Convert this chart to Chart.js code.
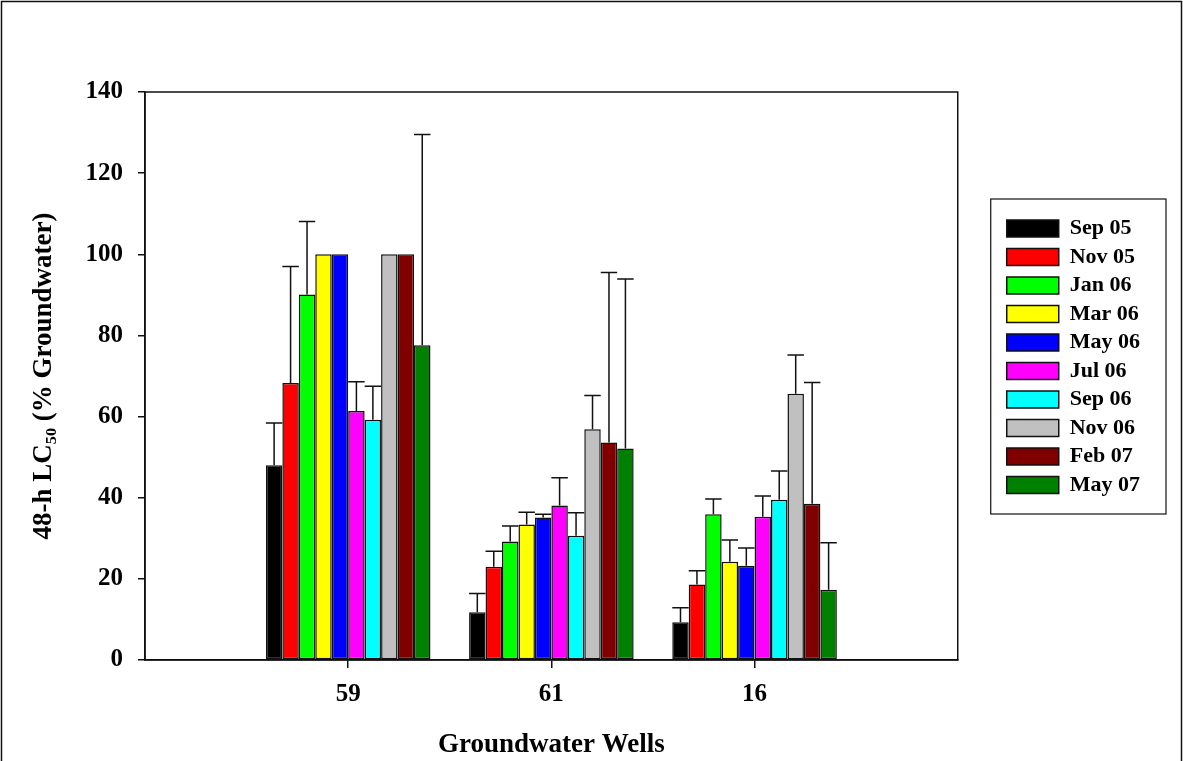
<!DOCTYPE html>
<html>
<head>
<meta charset="utf-8">
<script src="https://cdn.jsdelivr.net/npm/chart.js@4.4.0/dist/chart.umd.min.js"></script>
<style>
  body { margin: 0; background: #fff; }
  #wrap { width: 1183px; height: 761px; }
</style>
</head>
<body>
<div id="wrap"><canvas id="lc50" width="1183" height="761"></canvas></div>
<script>
// 48-h LC50 (% groundwater) per well, one array per sampling date
// order of values in every array: well 59, well 61, well 16
const wells = ["59", "61", "16"];
const months = ["Sep 05", "Nov 05", "Jan 06", "Mar 06", "May 06", "Jul 06", "Sep 06", "Nov 06", "Feb 07", "May 07"];

const sep05 = [48.0, 11.8, 9.3];
const nov05 = [68.3, 23.0, 18.6];
const jan06 = [90.1, 29.2, 35.9];
const mar06 = [100, 33.4, 24.2];
const may06 = [100, 35.1, 23.2];
const jul06 = [61.4, 38.1, 35.3];
const sep06 = [59.2, 30.6, 39.5];
const nov06 = [100, 56.9, 65.6];
const feb07 = [100, 53.6, 38.5];
const may07 = [77.6, 52.1, 17.3];

// upper error bar (+SD), 0 = no bar drawn
const sep05Err = [10.4, 4.6, 3.6];
const nov05Err = [28.7, 3.8, 3.4];
const jan06Err = [18.0, 3.8, 3.8];
const mar06Err = [0, 3.0, 5.4];
const may06Err = [0, 0.8, 4.4];
const jul06Err = [7.2, 6.8, 5.1];
const sep06Err = [8.3, 5.7, 7.1];
const nov06Err = [0, 8.3, 9.6];
const feb07Err = [0, 41.9, 29.9];
const may07Err = [51.9, 41.8, 11.6];

const yTicks = [0, 20, 40, 60, 80, 100, 120, 140];

const values = [sep05, nov05, jan06, mar06, may06, jul06, sep06, nov06, feb07, may07];
const errors = [sep05Err, nov05Err, jan06Err, mar06Err, may06Err, jul06Err, sep06Err, nov06Err, feb07Err, may07Err];
const colors = ["#000000", "#ff0000", "#00ff00", "#ffff00", "#0000ff", "#ff00ff", "#00ffff", "#c0c0c0", "#800000", "#008000"];

// empty slot on each side of the three wells
const xLabels = ["", ...wells, ""];
const pad = (arr) => [null, ...arr, null];

const datasets = months.map((m, i) => ({
  label: m,
  data: pad(values[i]),
  errorBars: pad(errors[i]),
  backgroundColor: colors[i],
  borderColor: "#111",
  borderWidth: 1.5,
  borderSkipped: false,
  categoryPercentage: 0.81,
  barPercentage: 1.0,
}));

const serif = "'Liberation Serif', 'Times New Roman', serif";

const decorations = {
  id: "decorations",
  beforeDraw(chart) {
    const ctx = chart.ctx;
    ctx.save();
    ctx.fillStyle = "#fff";
    ctx.fillRect(0, 0, chart.width, chart.height);
    ctx.restore();
  },
  afterDatasetsDraw(chart) {
    const ctx = chart.ctx;
    const y = chart.scales.y;
    ctx.save();
    ctx.strokeStyle = "#111";
    ctx.lineWidth = 1.5;
    chart.data.datasets.forEach((ds, i) => {
      const meta = chart.getDatasetMeta(i);
      meta.data.forEach((bar, j) => {
        const err = ds.errorBars[j];
        if (!err) return;
        const top = y.getPixelForValue(ds.data[j] + err);
        const half = bar.width / 2;
        ctx.beginPath();
        ctx.moveTo(bar.x, bar.y);
        ctx.lineTo(bar.x, top);
        ctx.moveTo(bar.x - half, top);
        ctx.lineTo(bar.x + half, top);
        ctx.stroke();
      });
    });
    ctx.restore();
  },
  afterDraw(chart) {
    const ctx = chart.ctx;
    const a = chart.chartArea;
    ctx.save();
    ctx.strokeStyle = "#111";
    ctx.lineWidth = 1.5;
    // plot box
    ctx.strokeRect(a.left, a.top, a.right - a.left, a.bottom - a.top);
    // outer frame
    ctx.strokeRect(1.5, 1.5, chart.width - 3, chart.height + 10);
    // legend frame
    const boxes = chart.legend.legendHitBoxes;
    if (boxes && boxes.length) {
      const l = Math.min(...boxes.map(b => b.left));
      const t = Math.min(...boxes.map(b => b.top));
      const r = Math.max(...boxes.map(b => b.left + b.width));
      const btm = Math.max(...boxes.map(b => b.top + b.height));
      ctx.lineWidth = 1.2;
      ctx.strokeRect(l - 16, t - 18.5, r - l + 42, btm - t + 36.5);
    }
    ctx.restore();
  },
};

new Chart(document.getElementById("lc50"), {
  type: "bar",
  data: { labels: xLabels, datasets: datasets },
  plugins: [decorations],
  options: {
    responsive: false,
    animation: false,
    layout: { padding: { top: 92, right: 33, bottom: 0, left: 0 } },
    plugins: {
      tooltip: { enabled: false },
      legend: {
        position: "right",
        align: "start",
        title: { display: true, text: "", font: { size: 10 }, padding: { top: 107, bottom: 0 } },
        labels: {
          boxWidth: 52,
          boxHeight: 17,
          padding: 6.5,
          color: "#000",
          font: { family: serif, size: 22, weight: "bold" },
        },
      },
    },
    scales: {
      x: {
        offset: false,
        afterFit(s) { s.height = 101; },
        grid: {
          offset: false,
          drawOnChartArea: false,
          tickLength: 8,
          lineWidth: 1.5,
          tickColor: (c) => (c.index === 0 || c.index === xLabels.length - 1) ? "rgba(0,0,0,0)" : "#111",
        },
        border: { display: true, color: "#111", width: 1.5 },
        ticks: {
          color: "#000",
          padding: 12,
          font: { family: serif, size: 25, weight: "bold" },
        },
        title: {
          display: true,
          text: "Groundwater Wells",
          color: "#000",
          padding: { top: 0, bottom: 0 },
          font: { family: serif, size: 27, weight: "bold" },
        },
      },
      y: {
        min: yTicks[0],
        max: yTicks[yTicks.length - 1],
        afterFit(s) { s.width = 145; },
        afterBuildTicks(s) { s.ticks = yTicks.map(v => ({ value: v })); },
        grid: { drawOnChartArea: false, tickLength: 7, lineWidth: 1.5, tickColor: "#111" },
        border: { display: true, color: "#111", width: 1.5 },
        ticks: {
          color: "#000",
          padding: 15,
          font: { family: serif, size: 25, weight: "bold" },
        },
        title: {
          display: true,
          text: "48-h LC\u2085\u2080 (% Groundwater)",
          color: "#000",
          padding: { top: 28, bottom: 0 },
          font: { family: serif, size: 27, weight: "bold" },
        },
      },
      spacer: {
        type: "linear",
        position: "right",
        afterFit(s) { s.width = 42.5; },
        grid: { display: false },
        border: { display: false },
        ticks: { display: false },
      },
    },
  },
});
</script>
</body>
</html>
